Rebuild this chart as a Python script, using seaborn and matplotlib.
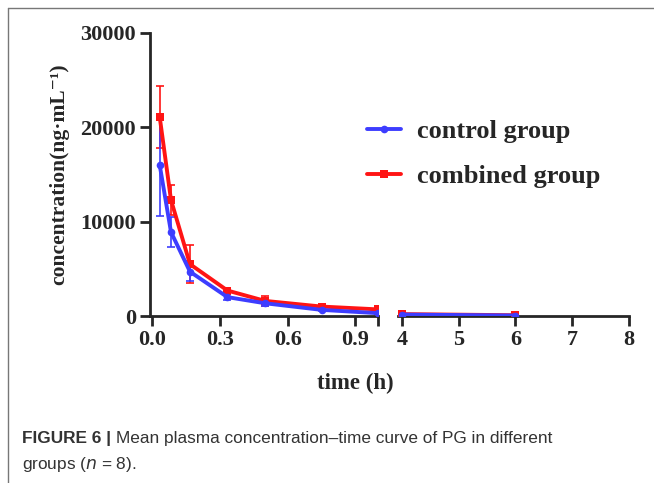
import matplotlib
matplotlib.use("Agg")
import matplotlib.pyplot as plt
import seaborn as sns
import pandas as pd
from matplotlib.lines import Line2D

# sampling times (h), split over the broken axis
t_early = [0.033, 0.083, 0.167, 0.333, 0.5, 0.75, 1.0]
t_late = [4, 6]

control_mean = [16000, 8900, 4700, 2000, 1350, 650, 300, 150, 50]
control_sd = [5400, 1600, 1000, 300, 250, 150, 100, 80, 30]
combined_mean = [21100, 12300, 5500, 2700, 1600, 1000, 700, 200, 80]
combined_sd = [3300, 1600, 2000, 300, 500, 200, 150, 350, 40]

groups = ["control group", "combined group"]
colors = {"control group": "#3d3dff", "combined group": "#ff1414"}
markers = {"control group": "o", "combined group": "s"}

times = t_early + t_late
df = pd.DataFrame({
    "time": times * 2,
    "conc": control_mean + combined_mean,
    "sd": control_sd + combined_sd,
    "group": ["control group"] * len(times) + ["combined group"] * len(times),
})

sns.set_style("ticks")
serif = ["Liberation Serif", "DejaVu Serif"]
plt.rcParams["font.family"] = serif
plt.rcParams["axes.linewidth"] = 2.0

fig = plt.figure(figsize=(6.54, 4.83), dpi=100)
ax1 = fig.add_axes([150 / 654, 1 - 316 / 483, 228 / 654, 283 / 483])
ax2 = fig.add_axes([398 / 654, 1 - 316 / 483, 231 / 654, 283 / 483])

for ax, lo, hi in [(ax1, -0.01, 1.0), (ax2, 3.93, 8.0)]:
    sub = df[(df.time >= lo) & (df.time <= hi + 0.01)]
    for g in ["combined group", "control group"]:
        d = sub[sub.group == g]
        ax.errorbar(d.time, d.conc, yerr=d.sd, fmt="none", ecolor=colors[g],
                    elinewidth=1.2, capsize=3, capthick=1.2, zorder=2)
    sns.lineplot(data=sub, x="time", y="conc", hue="group", style="group",
                 hue_order=["combined group", "control group"],
                 palette=colors, markers=markers, dashes=False,
                 linewidth=2.8, markersize=5.5, markeredgewidth=0,
                 legend=False, ax=ax, zorder=3)
    ax.set_xlim(lo, hi)
    ax.set_ylim(0, 30000)
    ax.set_xlabel("")
    ax.set_ylabel("")
    ax.tick_params(width=2.0, length=7, labelsize=16, pad=3)

ax1.set_xticks([0.0, 0.3, 0.6, 0.9, 1.0])
ax1.set_xticklabels(["0.0", "0.3", "0.6", "0.9", ""], fontweight="bold")
ax1.set_yticks([0, 10000, 20000, 30000])
ax1.set_yticklabels(["0", "10000", "20000", "30000"], fontweight="bold")
ax1.spines[["top", "right"]].set_visible(False)

ax2.set_xticks([4, 5, 6, 7, 8])
ax2.set_xticklabels(["4", "5", "6", "7", "8"], fontweight="bold")
ax2.set_yticks([])
ax2.spines[["top", "right", "left"]].set_visible(False)

ax1.set_ylabel("concentration(ng·mL⁻¹)", fontsize=15.5,
               fontweight="bold", labelpad=8)
fig.text(355 / 654, 1 - 383 / 483, "time (h)", ha="center", va="center",
         fontsize=16.5, fontweight="bold")

handles = [Line2D([], [], color=colors[g], marker=markers[g], lw=2.8,
                  markersize=5.5, markeredgewidth=0) for g in groups]
fig.legend(handles, groups, loc="upper left",
           bbox_to_anchor=(343 / 654, 1 - 96 / 483), frameon=False,
           prop={"family": serif, "weight": "bold", "size": 19},
           handlelength=1.3, handletextpad=0.6, labelspacing=0.8)

# frame lines of the figure panel
fig.add_artist(Line2D([8 / 654, 1], [1 - 8 / 483] * 2, color="#777777", lw=1))
fig.add_artist(Line2D([8 / 654] * 2, [0, 1 - 8 / 483], color="#777777", lw=1))

cap = ["Liberation Sans", "DejaVu Sans"]
t = fig.text(22 / 654, 1 - 439 / 483, "FIGURE 6 | ", ha="left", va="center",
             fontsize=12.4, fontweight="bold", family=cap, color="#333333")
fig.canvas.draw()
bb = t.get_window_extent()
fig.text(bb.x1 / 654, 1 - 439 / 483,
         "Mean plasma concentration–time curve of PG in different",
         ha="left", va="center", fontsize=12.4, family=cap, color="#333333")
fig.text(22 / 654, 1 - 464 / 483, "groups ($n$ = 8).", ha="left", va="center",
         fontsize=12.4, family=cap, color="#333333")

fig.savefig("out.png", dpi=100)
